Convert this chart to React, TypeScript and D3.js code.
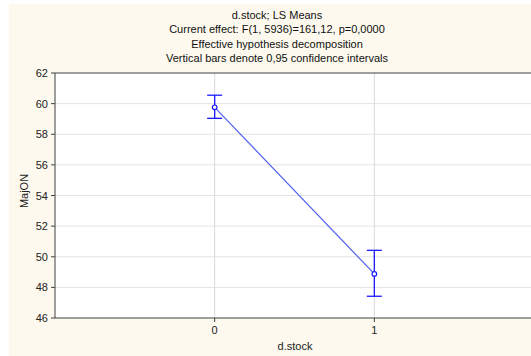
import React, { useEffect, useRef } from "react";
import * as d3 from "d3";

const levels = [0, 1];
const means = [59.76, 48.88];
const upper = [60.55, 50.42];
const lower = [59.04, 47.42];
const yTicks = [46, 48, 50, 52, 54, 56, 58, 60, 62];
const titleLines = [
  "d.stock; LS Means",
  "Current effect: F(1, 5936)=161,12, p=0,0000",
  "Effective hypothesis decomposition",
  "Vertical bars denote 0,95 confidence intervals",
];

const W = 531;
const H = 356;

export default function App() {
  const ref = useRef<SVGSVGElement>(null);

  useEffect(() => {
    const svg = d3.select(ref.current);
    svg.selectAll("*").remove();

    const left = 55, top = 73, bottom = 318, right = 534;
    const x = d3.scaleLinear().domain([-1, 2]).range([left, right]);
    const y = d3.scaleLinear().domain([46, 62]).range([bottom, top]);

    svg.append("rect").attr("width", W).attr("height", H).attr("fill", "#fff");
    svg.append("rect").attr("x", 9).attr("y", 4)
      .attr("width", W - 9).attr("height", H - 4).attr("fill", "#fdf9ee");
    svg.append("rect")
      .attr("x", left).attr("y", top)
      .attr("width", right - left).attr("height", bottom - top)
      .attr("fill", "#fff");

    // grid
    svg.append("g").selectAll("line").data(yTicks.slice(1, -1)).join("line")
      .attr("x1", left).attr("x2", right)
      .attr("y1", (d) => y(d)).attr("y2", (d) => y(d))
      .attr("stroke", "#e3e3e3").attr("stroke-width", 1);
    svg.append("g").selectAll("line").data(levels).join("line")
      .attr("y1", top).attr("y2", bottom)
      .attr("x1", (d) => x(d)).attr("x2", (d) => x(d))
      .attr("stroke", "#d8d8d8").attr("stroke-width", 1);

    // frame
    svg.append("path")
      .attr("d", `M${right},${top}H${left}V${bottom}H${right}`)
      .attr("fill", "none").attr("stroke", "#404040").attr("stroke-width", 1);

    const font = "Arial, 'Liberation Sans', sans-serif";

    // y axis
    const ya = svg.append("g");
    ya.selectAll("line").data(yTicks).join("line")
      .attr("x1", left - 4).attr("x2", left)
      .attr("y1", (d) => y(d)).attr("y2", (d) => y(d))
      .attr("stroke", "#404040");
    ya.selectAll("text").data(yTicks).join("text")
      .attr("x", left - 7).attr("y", (d) => y(d) + 4)
      .attr("text-anchor", "end").attr("font-family", font).attr("font-size", 11)
      .attr("fill", "#222").text((d) => d);

    // x axis
    const xa = svg.append("g");
    xa.selectAll("line").data(levels).join("line")
      .attr("x1", (d) => x(d)).attr("x2", (d) => x(d))
      .attr("y1", bottom).attr("y2", bottom + 4)
      .attr("stroke", "#404040");
    xa.selectAll("text").data(levels).join("text")
      .attr("x", (d) => x(d)).attr("y", bottom + 16)
      .attr("text-anchor", "middle").attr("font-family", font).attr("font-size", 11)
      .attr("fill", "#222").text((d) => d);

    svg.append("text")
      .attr("x", 295).attr("y", 350)
      .attr("text-anchor", "middle").attr("font-family", font).attr("font-size", 11)
      .attr("fill", "#222").text("d.stock");
    svg.append("text")
      .attr("transform", `translate(28,191) rotate(-90)`)
      .attr("text-anchor", "middle").attr("font-family", font).attr("font-size", 11)
      .attr("fill", "#222").text("MajON");

    // title
    svg.append("g").selectAll("text").data(titleLines).join("text")
      .attr("x", 277).attr("y", (_, i) => 18.5 + i * 14.5)
      .attr("text-anchor", "middle").attr("font-family", font).attr("font-size", 11)
      .attr("fill", "#111").text((d) => d);

    // line
    const line = d3.line<number>().x((_, i) => x(levels[i])).y((d) => y(d));
    svg.append("path").attr("d", line(means)).attr("fill", "none")
      .attr("stroke", "#5060f0").attr("stroke-width", 1.2);

    // error bars
    const eb = svg.append("g").attr("stroke", "#1a1aff").attr("stroke-width", 1.3);
    levels.forEach((lv, i) => {
      const cx = x(lv);
      eb.append("line").attr("x1", cx).attr("x2", cx).attr("y1", y(upper[i])).attr("y2", y(lower[i]));
      eb.append("line").attr("x1", cx - 7.5).attr("x2", cx + 7.5).attr("y1", y(upper[i])).attr("y2", y(upper[i]));
      eb.append("line").attr("x1", cx - 7.5).attr("x2", cx + 7.5).attr("y1", y(lower[i])).attr("y2", y(lower[i]));
    });
    svg.append("g").selectAll("circle").data(means).join("circle")
      .attr("cx", (_, i) => x(levels[i])).attr("cy", (d) => y(d)).attr("r", 2.3)
      .attr("fill", "#fff").attr("stroke", "#1a1aff").attr("stroke-width", 1.2);
  }, []);

  return (
    <svg ref={ref} width={W} height={H}
      style={{ position: "absolute", left: 0, top: 0, display: "block" }} />
  );
}
